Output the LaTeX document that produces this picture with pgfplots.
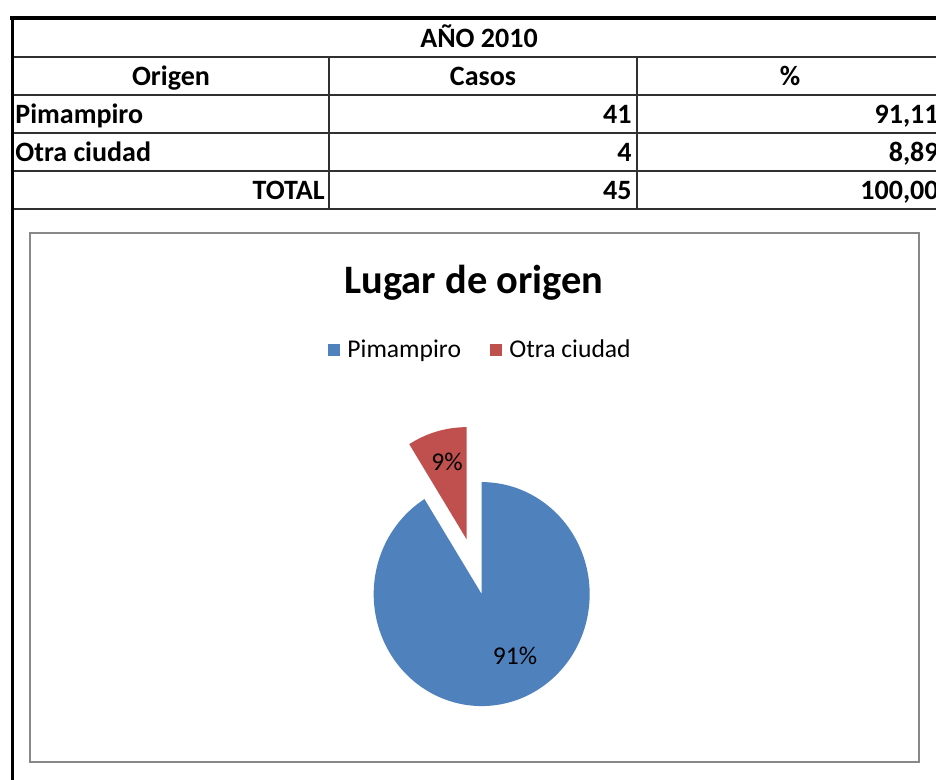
\documentclass[border=0pt]{standalone}
\usepackage{pgfplots}
\pgfplotsset{compat=1.18}
\usepackage{pgfplotstable}
\usepackage{fontspec}
\setmainfont{Carlito}
\definecolor{pieblue}{HTML}{4F81BD}
\definecolor{piered}{HTML}{C0504D}
\definecolor{gridgray}{HTML}{303030}
\definecolor{framegray}{HTML}{888888}
\pgfplotstableread{
origen casos
Pimampiro 41
Otra 4
}\datos
\newcommand{\tbl}{\fontsize{14pt}{17pt}\selectfont\bfseries}
\newcommand{\lgd}{\fontsize{12.8pt}{15pt}\selectfont}
\pgfplotstablegetelem{0}{casos}\of\datos \let\ca\pgfplotsretval
\pgfplotstablegetelem{1}{casos}\of\datos \let\cb\pgfplotsretval
\pgfmathsetmacro\angA{360*\ca/(\ca+\cb)}
\pgfmathsetmacro\angB{360*\cb/(\ca+\cb)}
\pgfmathsetmacro\startA{90-\angA}
\pgfmathsetmacro\endB{90+\angB}
\pgfmathsetmacro\bis{90+\angB/2}
\pgfmathsetmacro\ox{0.51*cos(\bis)}
\pgfmathsetmacro\oy{0.51*sin(\bis)}
\begin{document}
\begin{tikzpicture}[x=0.5pt,y=0.5pt]
\path[use as bounding box] (0,0) rectangle (936,780);
\clip (0,0) rectangle (936,780);
% pie
\begin{axis}[at={(446,166)}, anchor=center, scale only axis,
  width=162pt, height=168pt, xmin=-1.5, xmax=1.5, ymin=-1.5, ymax=1.5,
  hide axis, clip=false]
\addplot[fill=pieblue, draw=none, domain=\startA:90, samples=181]
  ({cos(x)},{sin(x)}) -- (axis cs:0,0) -- cycle;
\addplot[fill=piered, draw=none, domain=90:\endB, samples=31]
  ({\ox+cos(x)},{\oy+sin(x)}) -- (axis cs:\ox,\oy) -- cycle;
\end{axis}
% table
\draw[gridgray, line width=1pt] (12,723) -- (940,723);
\draw[gridgray, line width=1pt] (12,685) -- (940,685);
\draw[gridgray, line width=1pt] (12,647) -- (940,647);
\draw[gridgray, line width=1pt] (12,609) -- (940,609);
\draw[gridgray, line width=1pt] (12,571) -- (940,571);
\draw[gridgray, line width=1pt] (329,723) -- (329,571);
\draw[gridgray, line width=1pt] (637,723) -- (637,571);
\draw[black, line width=2pt] (10,761.5) -- (940,761.5);
\draw[black, line width=1.8pt] (12.5,763) -- (12.5,-10);
\node[anchor=base, inner sep=0, font=\tbl] at (479,732) {AÑO 2010};
\node[anchor=base, inner sep=0, font=\tbl] at (171,694) {Origen};
\node[anchor=base, inner sep=0, font=\tbl] at (483,694) {Casos};
\node[anchor=base, inner sep=0, font=\tbl] at (790,694) {\%};
\node[anchor=base west, inner sep=0, font=\tbl] at (15,656) {Pimampiro};
\node[anchor=base east, inner sep=0, font=\tbl] at (632,656) {41};
\node[anchor=base east, inner sep=0, font=\tbl] at (939,656) {91,11};
\node[anchor=base west, inner sep=0, font=\tbl] at (15,618) {Otra ciudad};
\node[anchor=base east, inner sep=0, font=\tbl] at (632,618) {4};
\node[anchor=base east, inner sep=0, font=\tbl] at (939,618) {8,89};
\node[anchor=base east, inner sep=0, font=\tbl] at (325,580) {TOTAL};
\node[anchor=base east, inner sep=0, font=\tbl] at (632,580) {45};
\node[anchor=base east, inner sep=0, font=\tbl] at (939,580) {100,00};
% chart frame
\draw[framegray, line width=1.2pt] (30,547) rectangle (919,18);
\node[anchor=base, inner sep=0, font=\fontsize{20.2pt}{24pt}\selectfont\bfseries] at (474,486) {Lugar de origen};
% legend
\fill[pieblue] (328,424) rectangle (340,436);
\node[anchor=base west, inner sep=0, font=\lgd] at (347,422) {Pimampiro};
\fill[piered] (490,424) rectangle (502,436);
\node[anchor=base west, inner sep=0, font=\lgd] at (509,422) {Otra ciudad};
% labels
\node[font=\lgd] at (447,318) {9\%};
\node[font=\lgd] at (515,124) {91\%};
\end{tikzpicture}
\end{document}
